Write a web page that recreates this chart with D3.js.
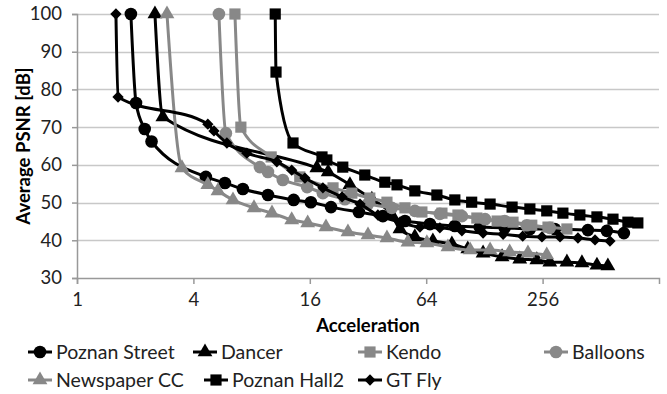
<!DOCTYPE html>
<html>
<head>
<meta charset="utf-8">
<script src="https://cdn.jsdelivr.net/npm/d3@7"></script>
<style>
    body { margin: 0; background: #fff; }
    svg { display: block; font-family: Lato, 'Open Sans', sans-serif; }
</style>
</head>
<body>
<div id="chartHolder"></div>
<script>
// values: [acceleration, average PSNR dB]
const poznanStreet = [[1.90, 100], [2.02, 76.4], [2.24, 69.5], [2.43, 66.2], [4.64, 56.8], [5.82, 55.2], [7.21, 53.6], [9.72, 52.0], [13.2, 50.7], [16.2, 50.1], [20.6, 48.8], [28.7, 47.5], [38.2, 46.4], [49.7, 45.1], [66.9, 44.3], [90, 43.8], [121, 43.5], [163, 43.3], [220, 43.0], [296, 43.0], [439, 42.7], [550, 42.5], [674, 41.9]];
const dancer = [[2.53, 100], [2.78, 72.7], [17.4, 59.2], [19.9, 58.1], [25.8, 54.7], [33.5, 50.9], [42.5, 46.7], [46.8, 43.0], [55.9, 40.9], [69.3, 39.8], [86.9, 39.0], [105, 37.7], [126, 36.6], [158, 35.6], [195, 35.0], [239, 34.8], [279, 34.2], [342, 34.2], [409, 34.0], [489, 33.4], [557, 33.2]];
const kendo = [[6.56, 100], [7.04, 70.0], [10.1, 62.1], [14.2, 56.8], [21.1, 53.9], [26.4, 52.5], [32.7, 51.2], [40.1, 50.1], [49.7, 48.6], [60.8, 47.5], [77.2, 47.2], [93.4, 46.7], [117, 45.9], [149, 45.1], [180, 44.8], [225, 44.0], [273, 43.5], [342, 43.0]];
const balloons = [[5.42, 100], [5.89, 68.4], [8.83, 59.4], [9.72, 58.1], [11.6, 56.0], [15.5, 54.1], [18.7, 52.5], [24.3, 50.9], [32.0, 49.6], [42.5, 48.6], [55.9, 47.8], [75.3, 47.0], [97.9, 46.4], [129, 45.6], [163, 45.1], [212, 44.0], [279, 43.3]];
const newspaperCC = [[2.92, 100], [3.49, 59.2], [4.75, 54.7], [5.36, 53.1], [6.41, 50.7], [8.23, 48.6], [10.2, 47.2], [12.9, 45.4], [15.6, 44.6], [19.4, 43.5], [25.2, 42.2], [32.0, 41.4], [40.1, 40.6], [51.5, 39.5], [64.5, 39.3], [82.9, 38.2], [108, 37.4], [137, 37.4], [173, 36.9], [215, 36.6], [269, 36.1]];
const poznanHall2 = [[10.6, 100], [10.7, 84.6], [13.1, 65.8], [18.5, 62.1], [19.6, 61.3], [23.7, 59.4], [30.8, 57.3], [39.1, 55.4], [45.2, 54.7], [55.9, 53.1], [72.7, 52.0], [90.0, 50.7], [110, 50.1], [137, 49.6], [178, 48.8], [220, 48.3], [269, 47.8], [326, 47.2], [399, 46.7], [489, 46.2], [592, 45.6], [707, 44.8], [796, 44.6]];
const gtFly = [[1.59, 100], [1.63, 78.0], [4.75, 70.8], [5.11, 69.0], [5.96, 65.8], [7.56, 63.1], [10.8, 60.8], [12.9, 58.6], [15.1, 56.5], [18.7, 53.9], [23.5, 51.5], [29.1, 49.6], [36.0, 46.7], [46.8, 44.8], [59.4, 43.5], [75.3, 43.3], [97.9, 42.5], [126, 41.9], [160, 41.6], [202, 41.1], [254, 40.9], [315, 40.9], [390, 40.6], [478, 40.1], [571, 39.8]];

const seriesNames = ['Poznan Street', 'Dancer', 'Kendo', 'Balloons', 'Newspaper CC', 'Poznan Hall2', 'GT Fly'];
const xTicks = [1, 4, 16, 64, 256];
const yTicks = [30, 40, 50, 60, 70, 80, 90, 100];

const BLACK = '#000000';
const GRAY = '#888888';

// draw order follows the legend order
const series = [
    { name: seriesNames[0], data: poznanStreet, color: BLACK, marker: 'circle' },
    { name: seriesNames[1], data: dancer, color: BLACK, marker: 'triangle' },
    { name: seriesNames[2], data: kendo, color: GRAY, marker: 'square' },
    { name: seriesNames[3], data: balloons, color: GRAY, marker: 'circle' },
    { name: seriesNames[4], data: newspaperCC, color: GRAY, marker: 'triangle' },
    { name: seriesNames[5], data: poznanHall2, color: BLACK, marker: 'square' },
    { name: seriesNames[6], data: gtFly, color: BLACK, marker: 'diamond' }
];

const width = 667, height = 394;
const plotLeft = 77, plotRight = 659, plotTop = 14, plotBottom = 278;

const svg = d3.select('#chartHolder').append('svg')
    .attr('width', width)
    .attr('height', height);

const x = d3.scaleLog().base(2).domain([1, 1024]).range([plotLeft, plotRight]);
const y = d3.scaleLinear().domain([30, 100]).range([plotBottom, plotTop]);

// horizontal gridlines
svg.append('g')
    .selectAll('line')
    .data(yTicks.filter(d => d > 30))
    .join('line')
    .attr('x1', plotLeft)
    .attr('x2', plotRight)
    .attr('y1', d => Math.round(y(d)) + 0.5)
    .attr('y2', d => Math.round(y(d)) + 0.5)
    .attr('stroke', '#c8c8c8')
    .attr('stroke-width', 1.5);

const yAxis = svg.append('g')
    .attr('transform', 'translate(' + plotLeft + ',0)')
    .call(d3.axisLeft(y).tickValues(yTicks).tickSize(5).tickPadding(10));
const xAxis = svg.append('g')
    .attr('transform', 'translate(0,' + plotBottom + ')')
    .call(d3.axisBottom(x).tickValues(xTicks).tickFormat(d3.format('d')).tickSize(6).tickPadding(9));

[xAxis, yAxis].forEach(a => {
    a.select('.domain').attr('stroke', '#999999').attr('stroke-width', 1.5);
    a.selectAll('.tick line').attr('stroke', '#999999').attr('stroke-width', 1.5);
    a.selectAll('text')
        .attr('fill', '#222222')
        .style('font-family', 'Lato, sans-serif')
        .style('font-size', '18.5px');
});

svg.append('text')
    .attr('x', (plotLeft + plotRight) / 2)
    .attr('y', 332)
    .attr('text-anchor', 'middle')
    .attr('fill', '#000')
    .style('font-size', '18.5px')
    .style('font-weight', 'bold')
    .text('Acceleration');

svg.append('text')
    .attr('transform', 'translate(30,' + (plotTop + plotBottom) / 2 + ') rotate(-90)')
    .attr('text-anchor', 'middle')
    .attr('fill', '#000')
    .style('font-size', '18.5px')
    .style('font-weight', 'bold')
    .text('Average PSNR [dB]');

// monotone keeps the steep drops from bowing sideways
const line = d3.line()
    .x(d => x(d[0]))
    .y(d => y(d[1]))
    .curve(d3.curveMonotoneX);

function markerPath(type) {
    if (type === 'circle') return d3.symbol(d3.symbolCircle, 125)();
    if (type === 'square') return d3.symbol(d3.symbolSquare, 125)();
    if (type === 'triangle') return d3.symbol(d3.symbolTriangle, 95)();
    return d3.symbol(d3.symbolSquare, 64)();
}

function drawMarker(g, type, color) {
    g.append('path')
        .attr('d', markerPath(type))
        .attr('fill', color)
        .attr('transform', type === 'diamond' ? 'rotate(45)' : null);
}

series.forEach(s => {
    const g = svg.append('g');
    g.append('path')
        .datum(s.data)
        .attr('d', line)
        .attr('fill', 'none')
        .attr('stroke', s.color)
        .attr('stroke-width', 3);
    g.selectAll('g.pt')
        .data(s.data)
        .join('g')
        .attr('class', 'pt')
        .attr('transform', d => 'translate(' + x(d[0]) + ',' + y(d[1]) + ')')
        .each(function () { drawMarker(d3.select(this), s.marker, s.color); });
});

// legend, two rows like the original
const legendPos = [[40, 352], [205, 352], [370, 352], [556, 352], [40, 380], [216, 380], [370, 380]];
series.forEach((s, i) => {
    const g = svg.append('g')
        .attr('transform', 'translate(' + legendPos[i][0] + ',' + legendPos[i][1] + ')');
    g.append('line')
        .attr('x1', -12).attr('x2', 12)
        .attr('stroke', s.color)
        .attr('stroke-width', 3);
    drawMarker(g, s.marker, s.color);
    g.append('text')
        .attr('x', 16)
        .attr('y', 7)
        .attr('fill', '#222222')
        .style('font-size', '19.5px')
        .text(s.name);
});
</script>
</body>
</html>
